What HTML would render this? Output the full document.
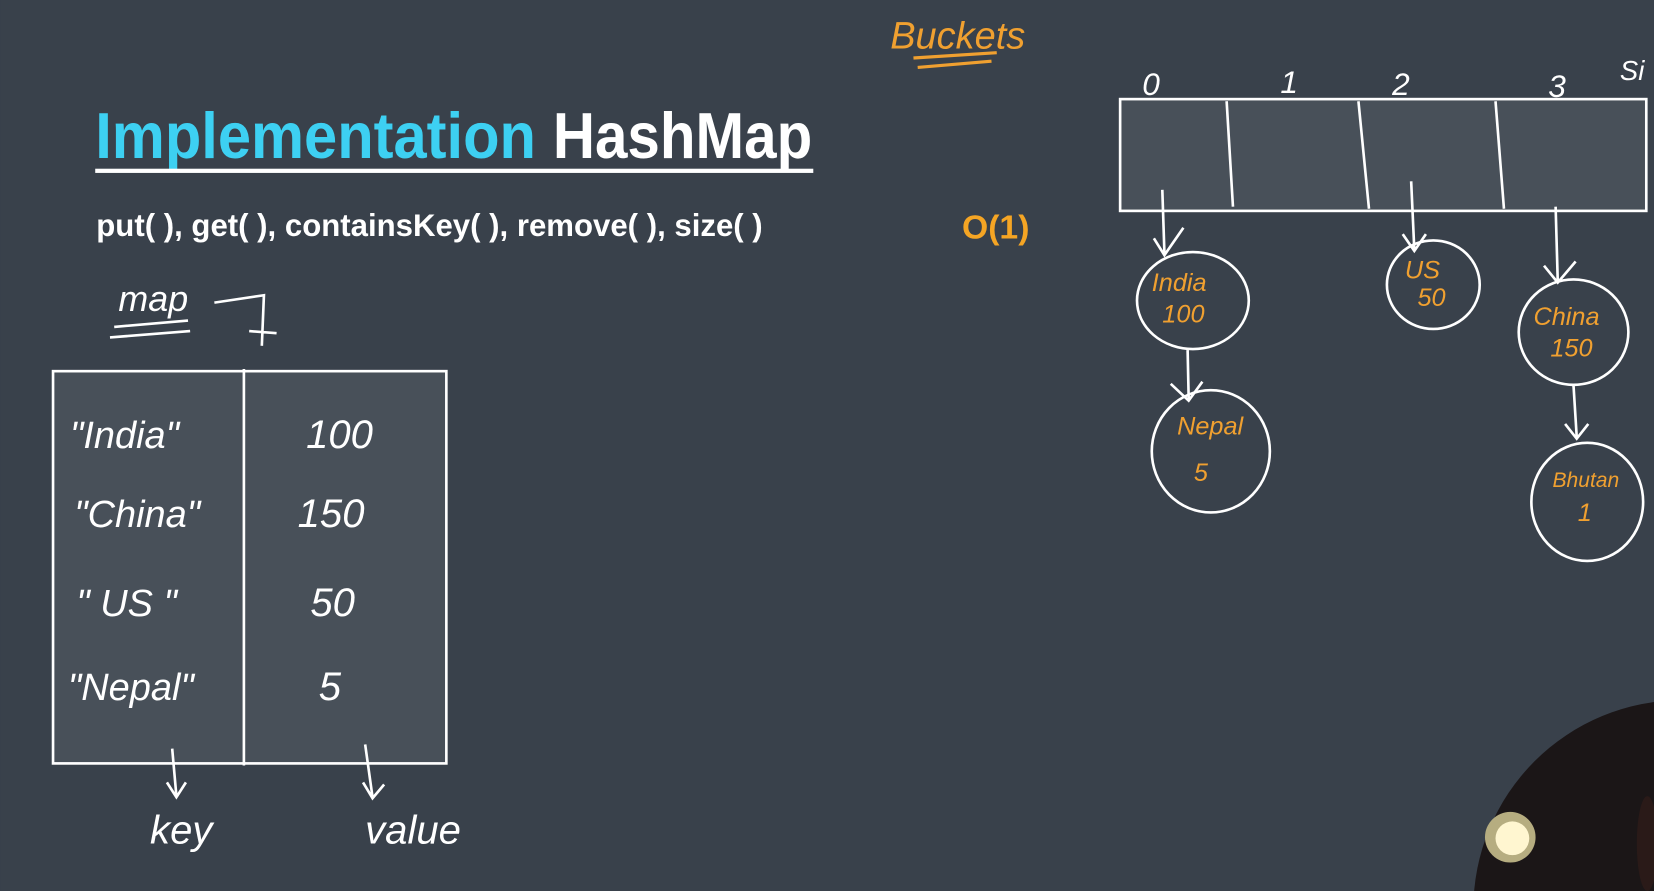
<!DOCTYPE html>
<html><head><meta charset="utf-8"><style>
html,body{margin:0;padding:0;background:#39414b;width:1654px;height:891px;overflow:hidden}
svg{display:block;position:absolute;left:0;top:0}
.hw{font-family:"Liberation Sans",sans-serif;font-style:italic}
</style></head><body>
<svg width="1654" height="891" viewBox="0 0 1568 845">
<rect width="1568" height="845" fill="#39414b"/>
<g>
<text x="90" y="150" font-family="Liberation Sans,sans-serif" font-weight="bold" font-size="62" fill="#3dd0f2" textLength="418" lengthAdjust="spacingAndGlyphs">Implementation</text>
<text x="524" y="150" font-family="Liberation Sans,sans-serif" font-weight="bold" font-size="62" fill="#ffffff" textLength="246" lengthAdjust="spacingAndGlyphs">HashMap</text>
<rect x="90" y="160" width="681" height="4" fill="#fff"/>
</g>
<text x="91" y="224" font-family="Liberation Sans,sans-serif" font-weight="bold" font-size="30" fill="#fff" textLength="632" lengthAdjust="spacingAndGlyphs">put( ), get( ), containsKey( ), remove( ), size( )</text>
<text x="912" y="226" font-family="Liberation Sans,sans-serif" font-weight="bold" font-size="32" fill="#f5a524">O(1)</text>
<g class="hw" fill="#f0a030">
<text x="844" y="46" font-size="36">Buckets</text>
<path d="M866 55 L945 50 M870 64 L940 58" stroke="#f0a030" stroke-width="3" fill="none"/>
</g>
<g stroke="#fff" stroke-width="2.5" fill="none">
<rect x="50" y="352" width="373" height="372" fill="#485059"/>
<line x1="231" y1="350" x2="231" y2="726"/>
<path d="M163 710 L167 755 M158 742 L167 756 L176 742 M346 706 L353 756 M344 742 L353 757 L364 744"/>
<path d="M108 310 L178 304 M104 320 L180 314 M203 287 L250 280 L248 328 M236 314 L262 316"/>
</g>
<g class="hw" fill="#fff">
<text x="112" y="295" font-size="34">map</text>
<text x="66" y="425" font-size="36">"India"</text><text x="290" y="425" font-size="38">100</text>
<text x="70" y="500" font-size="36">"China"</text><text x="282" y="500" font-size="38">150</text>
<text x="72" y="584" font-size="36">" US "</text><text x="294" y="584" font-size="38">50</text>
<text x="64" y="664" font-size="36">"Nepal"</text><text x="302" y="664" font-size="38">5</text>
<text x="142" y="800" font-size="38">key</text>
<text x="346" y="800" font-size="38">value</text>
</g>
<g stroke="#fff" stroke-width="2.5" fill="none">
<rect x="1062" y="94" width="499" height="106" fill="#485059"/>
<path d="M1163 96 L1169 196 M1288 96 L1298 198 M1418 96 L1426 198"/>
</g>
<g class="hw" fill="#fff" font-size="30">
<text x="1083" y="90">0</text><text x="1214" y="88">1</text><text x="1320" y="90">2</text><text x="1468" y="92">3</text>
<text x="1536" y="76" font-size="26">Si</text>
</g>
<g stroke="#fff" stroke-width="2.5" fill="none">
<path d="M1102 180 L1104 240 M1094 226 L1104 242 L1122 216"/>
<path d="M1338 172 L1341 237 M1330 222 L1341 238 L1352 222"/>
<path d="M1475 196 L1477 266 M1464 252 L1477 268 L1494 248"/>
<ellipse cx="1131" cy="285" rx="53" ry="46"/>
<ellipse cx="1359" cy="270" rx="44" ry="42"/>
<ellipse cx="1492" cy="315" rx="52" ry="50"/>
<path d="M1126 332 L1127 378 M1110 364 L1127 380 L1140 362"/>
<path d="M1492 366 L1495 414 M1484 402 L1495 416 L1506 402"/>
<ellipse cx="1148" cy="428" rx="56" ry="58"/>
<ellipse cx="1505" cy="476" rx="53" ry="56"/>
</g>
<g class="hw" fill="#f0a030" font-size="24">
<text x="1092" y="276">India</text><text x="1102" y="306">100</text>
<text x="1332" y="264">US</text><text x="1344" y="290">50</text>
<text x="1454" y="308">China</text><text x="1470" y="338">150</text>
<text x="1116" y="412">Nepal</text><text x="1132" y="456">5</text>
<text x="1472" y="462" font-size="20">Bhutan</text><text x="1496" y="494">1</text>
</g>
<g>
<circle cx="1595" cy="862" r="198" fill="#1b1617"/>
<circle cx="1432" cy="794" r="24" fill="#b6ad80"/>
<circle cx="1434" cy="795" r="16" fill="#fff6d0"/>
<ellipse cx="1562" cy="800" rx="10" ry="45" fill="#2a1a18"/>
</g>
</svg>
</body></html>
